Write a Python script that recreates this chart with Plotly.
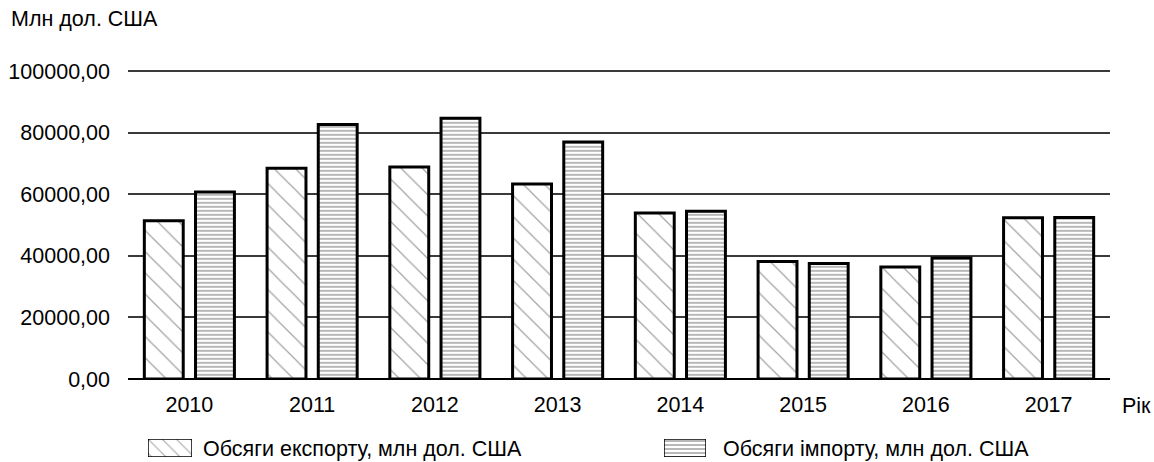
import plotly.graph_objects as go

# Annual foreign trade volumes, mln USD
years = ["2010", "2011", "2012", "2013", "2014", "2015", "2016", "2017"]
exports = [51405, 68394, 68809, 63312, 53902, 38127, 36361, 52350]
imports = [60742, 82608, 84658, 76986, 54429, 37516, 39249, 52400]

y_ticks = [0, 20000, 40000, 60000, 80000, 100000]
y_tick_labels = ["0,00", "20000,00", "40000,00", "60000,00", "80000,00", "100000,00"]

export_name = "Обсяги експорту, млн дол. США"
import_name = "Обсяги імпорту, млн дол. США"
y_title = "Млн дол. США"
x_title = "Рік"

W, H = 1154, 462
FONT = "Liberation Sans, Arial, sans-serif"
FS = 21.5

# plot area: value 0 sits at y=379 px, 100000 at y=71 px
Y_MAX = 102000
Y_BOTTOM_PX = 379
Y_TOP_PX = Y_BOTTOM_PX - (Y_BOTTOM_PX - 71) * Y_MAX / 100000

export_pattern = dict(shape="\\", size=15, solidity=0.08, fgcolor="#444444",
                      bgcolor="white", fillmode="overlay")
import_pattern = dict(shape="-", size=4, solidity=0.3, fgcolor="#111111",
                      bgcolor="white", fillmode="overlay")


def px_x(x):
    return x / W


def px_y(y):
    return 1 - y / H


fig = go.Figure()

fig.add_trace(go.Bar(
    x=years, y=exports, name=export_name,
    marker=dict(color="white", pattern=export_pattern,
                line=dict(color="black", width=3)),
    showlegend=False, xaxis="x", yaxis="y",
))
fig.add_trace(go.Bar(
    x=years, y=imports, name=import_name,
    marker=dict(color="white", pattern=import_pattern,
                line=dict(color="black", width=3)),
    showlegend=False, xaxis="x", yaxis="y",
))

# Legend swatches drawn as single full-width bars in tiny subplots
fig.add_trace(go.Bar(
    x=[0.5], y=[1], width=[1], xaxis="x2", yaxis="y2", showlegend=False,
    marker=dict(color="white", pattern=dict(shape="\\", size=10, solidity=0.1,
                                            fgcolor="#444444", bgcolor="white",
                                            fillmode="overlay"),
                line=dict(color="black", width=1.5)),
    hoverinfo="skip",
))
fig.add_trace(go.Bar(
    x=[0.5], y=[1], width=[1], xaxis="x3", yaxis="y3", showlegend=False,
    marker=dict(color="white", pattern=import_pattern,
                line=dict(color="black", width=1.5)),
    hoverinfo="skip",
))

hidden = dict(visible=False, range=[0, 1], fixedrange=True, automargin=False)

fig.update_layout(
    width=W, height=H,
    margin=dict(l=0, r=0, t=0, b=0, pad=0, autoexpand=False),
    paper_bgcolor="white", plot_bgcolor="white",
    font=dict(family=FONT, size=FS, color="black"),
    barmode="group", bargap=0.166, bargroupgap=0.24,
    xaxis=dict(
        domain=[px_x(128), px_x(1110)],
        type="category", automargin=False,
        showgrid=False, showline=False, zeroline=False,
        ticks="", tickfont=dict(size=FS), ticklabelstandoff=10,
    ),
    yaxis=dict(
        domain=[px_y(Y_BOTTOM_PX), px_y(Y_TOP_PX)],
        range=[0, Y_MAX], automargin=False,
        tickvals=y_ticks, ticktext=y_tick_labels,
        showgrid=True, gridcolor="#3a3a3a", gridwidth=1.5,
        zeroline=True, zerolinecolor="black", zerolinewidth=2,
        showline=False, ticks="", tickfont=dict(size=FS),
        ticklabelstandoff=17,
    ),
    xaxis2=dict(domain=[px_x(148), px_x(192)], anchor="y2", **hidden),
    yaxis2=dict(domain=[px_y(457), px_y(439)], anchor="x2", **hidden),
    xaxis3=dict(domain=[px_x(664), px_x(706)], anchor="y3", **hidden),
    yaxis3=dict(domain=[px_y(457), px_y(439)], anchor="x3", **hidden),
)

fig.add_annotation(text=y_title, xref="paper", yref="paper",
                   x=px_x(9), y=px_y(19), xanchor="left", yanchor="middle",
                   showarrow=False, font=dict(size=FS))
fig.add_annotation(text=x_title, xref="paper", yref="paper",
                   x=px_x(1120), y=px_y(406), xanchor="left", yanchor="middle",
                   showarrow=False, font=dict(size=FS))
fig.add_annotation(text=export_name, xref="paper", yref="paper",
                   x=px_x(201), y=px_y(449), xanchor="left", yanchor="middle",
                   showarrow=False, font=dict(size=FS))
fig.add_annotation(text=import_name, xref="paper", yref="paper",
                   x=px_x(721), y=px_y(449), xanchor="left", yanchor="middle",
                   showarrow=False, font=dict(size=FS))

fig.write_html("out.html")
